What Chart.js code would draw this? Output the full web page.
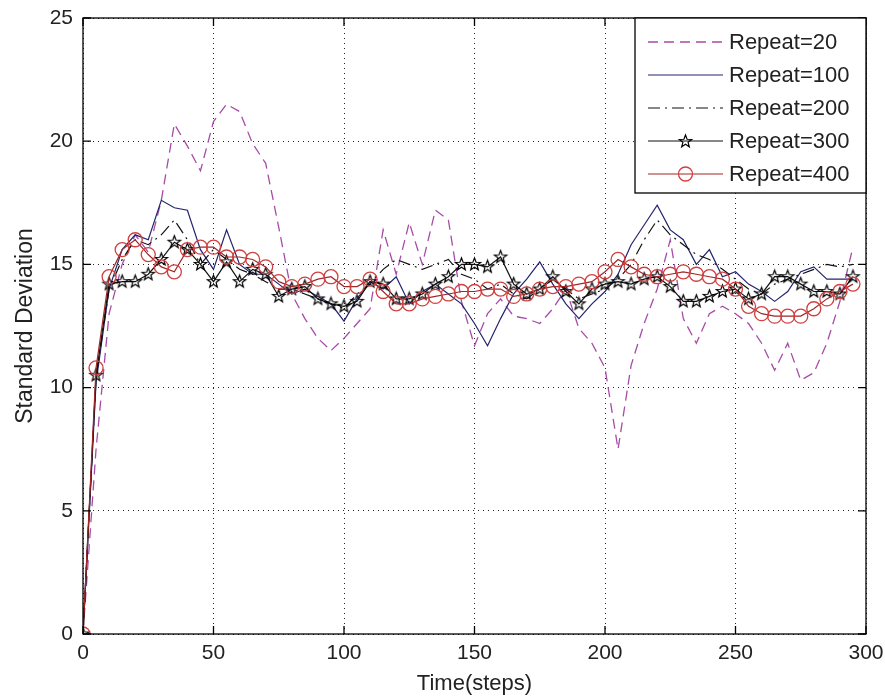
<!DOCTYPE html>
<html><head><meta charset="utf-8">
<script src="https://cdn.jsdelivr.net/npm/chart.js@4.4.1/dist/chart.umd.min.js"></script>
<style>html,body{margin:0;padding:0;background:#fff}#wrap{width:885px;height:698px}</style>
</head><body><div id="wrap"><canvas id="c" width="885" height="698"></canvas></div>
<script>
const steps=[0,5,10,15,20,25,30,35,40,45,50,55,60,65,70,75,80,85,90,95,100,105,110,115,120,125,130,135,140,145,150,155,160,165,170,175,180,185,190,195,200,205,210,215,220,225,230,235,240,245,250,255,260,265,270,275,280,285,290,295];
const seriesNames=['Repeat=20','Repeat=100','Repeat=200','Repeat=300','Repeat=400'];
const repeat20=[0,7.5,13,15,16.2,15.5,17.6,20.7,19.8,18.8,20.8,21.5,21.2,19.9,19.1,16.5,13.8,12.8,12.0,11.5,12.0,12.6,13.2,16.4,14.6,16.7,15.0,17.2,16.8,13.5,11.7,13.0,13.6,12.9,12.8,12.6,13.2,14.0,12.4,11.8,10.8,7.5,10.9,12.6,14.0,16.0,12.8,11.8,13.0,13.3,13.0,12.6,11.8,10.7,11.8,10.3,10.6,11.8,13.5,15.7];
const repeat100=[0,10.2,14.0,15.6,16.2,16.0,17.6,17.3,17.2,15.6,14.8,16.4,15.0,14.6,14.6,14.2,13.8,14.0,13.7,13.4,12.7,13.6,14.3,14.0,14.5,13.4,13.9,14.2,13.8,13.4,12.6,11.7,12.8,13.8,14.4,15.1,14.2,13.4,12.8,13.4,13.9,14.6,15.8,16.6,17.4,16.4,16.0,15.0,15.6,14.5,14.7,14.2,13.9,13.5,13.9,14.7,14.9,14.4,14.4,14.4];
const repeat200=[0,10.4,14.0,15.2,16.0,15.8,16.2,16.8,16.0,15.0,15.6,15.2,14.8,14.6,14.3,14.0,14.0,13.8,13.6,13.4,13.2,13.8,14.2,14.8,15.2,15.0,14.8,15.0,15.2,14.6,14.4,14.0,14.2,13.8,13.6,14.0,14.4,14.0,13.6,13.8,14.0,14.4,15.0,16.0,16.8,16.2,15.8,15.4,15.2,14.8,14.4,14.0,13.8,14.2,14.4,14.6,14.8,15.0,14.9,15.0];
const repeat300=[0,10.5,14.2,14.3,14.3,14.6,15.2,15.9,15.6,15.0,14.3,15.1,14.3,14.8,14.6,13.7,14.0,14.1,13.6,13.4,13.3,13.5,14.3,14.2,13.6,13.6,13.8,14.2,14.5,15.0,15.0,14.9,15.3,14.2,13.8,14.0,14.5,13.9,13.4,14.0,14.2,14.3,14.2,14.4,14.5,14.1,13.5,13.5,13.7,13.9,14.0,13.6,13.8,14.5,14.5,14.2,13.9,13.9,13.8,14.5];
const repeat400=[0,10.8,14.5,15.6,16.0,15.4,14.9,14.7,15.6,15.7,15.7,15.3,15.3,15.2,14.9,14.3,14.1,14.2,14.4,14.5,14.1,14.1,14.4,13.9,13.4,13.4,13.6,13.7,13.8,13.9,13.9,14.0,14.0,13.7,13.8,14.0,14.1,14.1,14.2,14.3,14.7,15.2,14.9,14.6,14.5,14.6,14.7,14.6,14.5,14.4,14.0,13.3,13.0,12.9,12.9,12.9,13.2,13.6,13.9,14.2];
const xTicks=[0,50,100,150,200,250,300];
const yTicks=[0,5,10,15,20,25];
const xTitle='Time(steps)';
const yTitle='Standard Deviation';

const FONT="'Liberation Sans', Arial, Helvetica, sans-serif";
function makeStar(r){
  const s=Math.ceil(r*2+4);const c=document.createElement('canvas');c.width=s;c.height=s;
  const g=c.getContext('2d');g.translate(s/2,s/2);g.beginPath();
  for(let i=0;i<10;i++){const a=-Math.PI/2+i*Math.PI/5;const rr=i%2?r*0.42:r;
    const px=rr*Math.cos(a),py=rr*Math.sin(a);i?g.lineTo(px,py):g.moveTo(px,py);}
  g.closePath();g.strokeStyle='#000';g.lineWidth=1.2;g.stroke();return c;
}
const star=makeStar(6.5);
const allSeries=[repeat20,repeat100,repeat200,repeat300,repeat400];
const styles=[
  {color:'#a64ca6',dash:[10,6],point:null,order:4,width:1.3},
  {color:'#24246e',dash:[],point:null,order:3,width:1.2},
  {color:'#111111',dash:[12,5,2,5],point:null,order:2,width:1.2},
  {color:'#111111',dash:[],point:'star',order:1,width:1.2},
  {color:'#a02828',dash:[],point:'circle',order:0,width:1.2}
];
const datasets=allSeries.map((arr,i)=>{
  const st=styles[i];
  return {
    label:seriesNames[i],
    data:steps.map((t,j)=>({x:t,y:arr[j]})),
    borderColor:st.color,borderWidth:st.width,borderDash:st.dash,
    pointRadius:st.point?7:0,
    pointStyle:st.point==='star'?star:(st.point||'circle'),
    pointBorderColor:st.point==='circle'?'#d04040':'#111',
    pointBackgroundColor:'rgba(0,0,0,0)',
    pointBorderWidth:1.3,
    tension:0,fill:false,order:st.order
  };
});

const framePlugin={
  id:'frame',
  afterDraw(chart){
    const {ctx,chartArea:a,scales:{x,y}}=chart;
    ctx.save();
    ctx.setLineDash([]);ctx.strokeStyle='#000';ctx.lineWidth=1.3;
    ctx.strokeRect(a.left,a.top,a.right-a.left,a.bottom-a.top);
    ctx.beginPath();
    xTicks.forEach(v=>{const px=x.getPixelForValue(v);
      ctx.moveTo(px,a.bottom);ctx.lineTo(px,a.bottom-8);
      ctx.moveTo(px,a.top);ctx.lineTo(px,a.top+8);});
    yTicks.forEach(v=>{const py=y.getPixelForValue(v);
      ctx.moveTo(a.left,py);ctx.lineTo(a.left+8,py);
      ctx.moveTo(a.right,py);ctx.lineTo(a.right-8,py);});
    ctx.stroke();
    // legend
    const L={x1:635,y1:a.top,x2:a.right,y2:193};
    ctx.fillStyle='#fff';ctx.fillRect(L.x1,L.y1,L.x2-L.x1,L.y2-L.y1);
    ctx.strokeStyle='#000';ctx.lineWidth=1.3;ctx.strokeRect(L.x1,L.y1,L.x2-L.x1,L.y2-L.y1);
    const rows=[42,75,108,141,174];
    datasets.forEach((d,i)=>{
      const st=styles[i];const yy=rows[i];
      ctx.beginPath();ctx.setLineDash(st.dash);ctx.strokeStyle=st.color;ctx.lineWidth=st.width;
      ctx.moveTo(648,yy);ctx.lineTo(723,yy);ctx.stroke();ctx.setLineDash([]);
      if(st.point==='star'){ctx.drawImage(star,Math.round(685.5-star.width/2),Math.round(yy-star.height/2));}
      if(st.point==='circle'){ctx.beginPath();ctx.arc(685.5,yy,7,0,Math.PI*2);ctx.strokeStyle='#d04040';ctx.lineWidth=1.3;ctx.stroke();}
      ctx.fillStyle='#222';ctx.font='22px '+FONT;ctx.textAlign='left';ctx.textBaseline='middle';
      ctx.fillText(d.label,729,yy+1);
    });
    ctx.restore();
  }
};

new Chart(document.getElementById('c'),{
  type:'line',
  data:{datasets},
  options:{
    responsive:false,animation:false,devicePixelRatio:1,
    layout:{padding:{top:18,right:19,left:0,bottom:0}},
    plugins:{legend:{display:false},tooltip:{enabled:false}},
    scales:{
      x:{type:'linear',min:0,max:300,
        afterBuildTicks:s=>{s.ticks=xTicks.map(v=>({value:v}));},
        afterFit:s=>{s.height=64;s.paddingRight=0;s.paddingLeft=0;},
        grid:{color:'#222',lineWidth:1,drawTicks:false},
        border:{display:false,dash:[1,4]},
        ticks:{padding:7,color:'#222',font:{family:FONT,size:21},maxRotation:0,autoSkip:false},
        title:{display:true,text:xTitle,color:'#222',font:{family:FONT,size:22},padding:{top:0,bottom:1}}
      },
      y:{type:'linear',min:0,max:25,
        afterBuildTicks:s=>{s.ticks=yTicks.map(v=>({value:v}));},
        afterFit:s=>{s.width=83;s.paddingTop=0;s.paddingBottom=0;},
        grid:{color:'#222',lineWidth:1,drawTicks:false},
        border:{display:false,dash:[1,4]},
        ticks:{padding:10,color:'#222',font:{family:FONT,size:21},autoSkip:false},
        title:{display:true,text:yTitle,color:'#222',font:{family:FONT,size:23},padding:{top:12,bottom:0}}
      }
    }
  },
  plugins:[framePlugin]
});
</script></body></html>
